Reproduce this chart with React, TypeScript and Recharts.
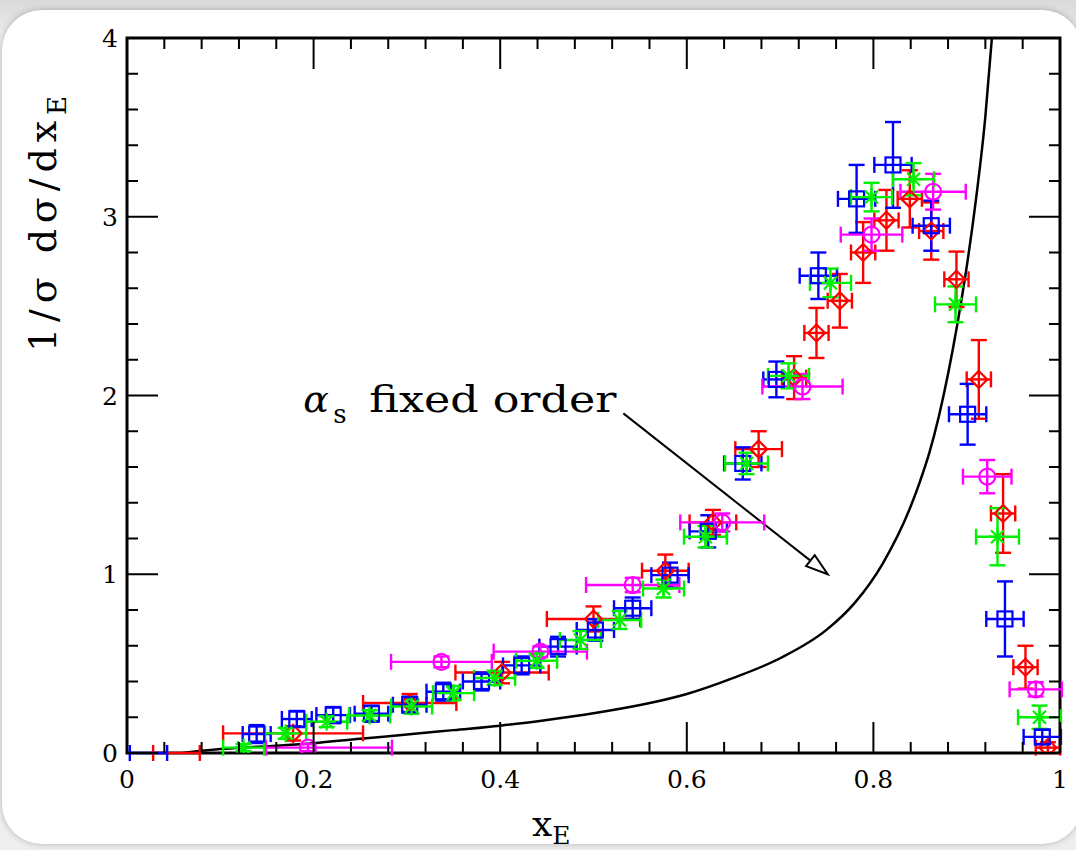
import React from 'react';
import {
  ComposedChart,
  Scatter,
  Line,
  XAxis,
  YAxis,
  ErrorBar,
  ReferenceArea,
  ReferenceLine,
  Label,
} from 'recharts';

// rows: [x_E, 1/σ dσ/dx_E, x error, y error]
type Row = [number, number, number | [number, number], number];

const redRows: Row[] = [
  [0.053, 0, 0.025, 0],
  [0.178, 0.11, 0.075, 0.04],
  [0.303, 0.28, 0.05, 0.05],
  [0.402, 0.45, 0.05, 0.06],
  [0.5, 0.75, 0.05, 0.07],
  [0.577, 1.02, 0.025, 0.09],
  [0.628, 1.29, 0.025, 0.07],
  [0.677, 1.7, 0.025, 0.1],
  [0.715, 2.1, 0.013, 0.12],
  [0.739, 2.35, 0.013, 0.14],
  [0.764, 2.53, 0.013, 0.15],
  [0.789, 2.8, 0.013, 0.17],
  [0.814, 2.98, 0.013, 0.17],
  [0.839, 3.1, 0.013, 0.16],
  [0.862, 2.92, 0.013, 0.16],
  [0.889, 2.65, 0.013, 0.155],
  [0.913, 2.09, 0.013, 0.22],
  [0.939, 1.34, 0.013, 0.22],
  [0.963, 0.48, 0.013, 0.12],
  [0.987, 0.03, 0.013, 0.03],
];

const blueRows: Row[] = [
  [0.023, 0, 0.02, 0],
  [0.139, 0.106, 0.015, 0.05],
  [0.182, 0.19, 0.016, 0.045],
  [0.221, 0.212, 0.018, 0.045],
  [0.262, 0.22, 0.018, 0.045],
  [0.303, 0.27, 0.018, 0.045],
  [0.339, 0.343, 0.018, 0.05],
  [0.38, 0.4, 0.02, 0.05],
  [0.423, 0.49, 0.02, 0.05],
  [0.462, 0.595, 0.02, 0.055],
  [0.502, 0.688, 0.02, 0.06],
  [0.542, 0.81, 0.02, 0.06],
  [0.582, 0.995, 0.02, 0.07],
  [0.623, 1.24, 0.02, 0.09],
  [0.66, 1.62, 0.02, 0.09],
  [0.696, 2.09, 0.014, 0.1],
  [0.741, 2.67, 0.02, 0.13],
  [0.782, 3.1, 0.02, 0.19],
  [0.821, 3.29, 0.02, 0.24],
  [0.862, 2.95, 0.02, 0.14],
  [0.901, 1.895, 0.02, 0.17],
  [0.941, 0.75, 0.02, 0.21],
  [0.981, 0.09, 0.02, 0.04],
];

const magentaRows: Row[] = [
  [0.194, 0.03, [0.045, 0.09], 0.02],
  [0.337, 0.51, 0.054, 0.03],
  [0.443, 0.567, 0.05, 0.03],
  [0.542, 0.94, 0.05, 0.04],
  [0.638, 1.29, 0.045, 0.05],
  [0.724, 2.05, 0.043, 0.07],
  [0.798, 2.9, 0.033, 0.09],
  [0.864, 3.14, 0.035, 0.1],
  [0.922, 1.546, 0.026, 0.093],
  [0.974, 0.356, 0.028, 0.04],
];

const greenRows: Row[] = [
  [0.125, 0.03, 0.022, 0.02],
  [0.17, 0.11, 0.022, 0.03],
  [0.214, 0.175, 0.022, 0.03],
  [0.26, 0.21, 0.022, 0.03],
  [0.305, 0.26, 0.022, 0.04],
  [0.35, 0.335, 0.022, 0.04],
  [0.394, 0.42, 0.022, 0.04],
  [0.439, 0.516, 0.022, 0.04],
  [0.486, 0.632, 0.022, 0.05],
  [0.528, 0.744, 0.023, 0.05],
  [0.575, 0.92, 0.022, 0.05],
  [0.62, 1.21, 0.023, 0.06],
  [0.664, 1.62, 0.023, 0.06],
  [0.709, 2.11, 0.022, 0.07],
  [0.754, 2.63, 0.022, 0.08],
  [0.798, 3.11, 0.022, 0.08],
  [0.843, 3.21, 0.022, 0.09],
  [0.888, 2.51, 0.022, 0.1],
  [0.933, 1.21, 0.023, 0.16],
  [0.978, 0.2, 0.023, 0.065],
];

// fixed-order α_s prediction
const curveX = [0.06, 0.1, 0.15, 0.2, 0.25, 0.3, 0.35, 0.4, 0.45, 0.5, 0.55, 0.6, 0.65, 0.7, 0.75, 0.78, 0.81, 0.84, 0.85, 0.86, 0.87, 0.88, 0.89, 0.9, 0.91, 0.92, 0.927];
const curveY = [0, 0.022, 0.038, 0.055, 0.08, 0.103, 0.128, 0.153, 0.185, 0.222, 0.268, 0.33, 0.42, 0.53, 0.69, 0.84, 1.06, 1.38, 1.52, 1.68, 1.88, 2.12, 2.4, 2.72, 3.1, 3.56, 4.0];

// arrow from the annotation to the curve
const arrowFrom = { x: 0.532, y: 1.9 };
const arrowTo = { x: 0.751, y: 1.0 };

const xTicks = [0, 0.04, 0.08, 0.12, 0.16, 0.2, 0.24, 0.28, 0.32, 0.36, 0.4, 0.44, 0.48, 0.52, 0.56, 0.6, 0.64, 0.68, 0.72, 0.76, 0.8, 0.84, 0.88, 0.92, 0.96, 1];
const xMajor = [0, 0.2, 0.4, 0.6, 0.8, 1];
const xLabels = ['0', '0.2', '0.4', '0.6', '0.8', '1'];
const yTicks = [0, 0.2, 0.4, 0.6, 0.8, 1, 1.2, 1.4, 1.6, 1.8, 2, 2.2, 2.4, 2.6, 2.8, 3, 3.2, 3.4, 3.6, 3.8, 4];
const yMajor = [0, 1, 2, 3, 4];
const yLabels = ['0', '1', '2', '3', '4'];

const RED = '#ff0000';
const BLUE = '#0000ff';
const GREEN = '#00f000';
const MAGENTA = '#ff00ff';

const toPoints = (rows: Row[]) => rows.map(([x, y, ex, ey]) => ({ x, y, ex, ey }));
const curve = curveX.map((x, i) => ({ x, y: curveY[i] }));

const W = 1076;
const H = 850;
const PLOT_W = 933;
const PLOT_H = 715;
const FONT = '"DejaVu Serif", serif';

const findMajor = (list: number[], v: number) => list.findIndex((m) => Math.abs(m - v) < 1e-6);

const XTick = (props: any) => {
  const { x, y, payload } = props;
  const idx = findMajor(xMajor, payload.value);
  const len = idx >= 0 ? 31 : 11;
  return (
    <g>
      <line x1={x} y1={y} x2={x} y2={y - len} stroke="#000" strokeWidth={2} />
      <line x1={x} y1={y - PLOT_H} x2={x} y2={y - PLOT_H + len} stroke="#000" strokeWidth={2} />
      {idx >= 0 && (
        <text x={x} y={y + 35} textAnchor="middle" fontFamily={FONT} fontSize={25} fill="#000">
          {xLabels[idx]}
        </text>
      )}
    </g>
  );
};

const YTick = (props: any) => {
  const { x, y, payload } = props;
  const idx = findMajor(yMajor, payload.value);
  const len = idx >= 0 ? 31 : 11;
  return (
    <g>
      <line x1={x} y1={y} x2={x + len} y2={y} stroke="#000" strokeWidth={2} />
      <line x1={x + PLOT_W} y1={y} x2={x + PLOT_W - len} y2={y} stroke="#000" strokeWidth={2} />
      {idx >= 0 && (
        <text x={x - 9} y={y + 9} textAnchor="end" fontFamily={FONT} fontSize={25} fill="#000">
          {yLabels[idx]}
        </text>
      )}
    </g>
  );
};

const Square = (props: any) => {
  const { cx, cy, payload } = props;
  if (payload.y <= 0) return <g />;
  return <rect x={cx - 7.5} y={cy - 7.5} width={15} height={15} fill="none" stroke={BLUE} strokeWidth={2.2} />;
};

const Diamond = (props: any) => {
  const { cx, cy, payload } = props;
  if (payload.y <= 0) return <g />;
  const r = 8.5;
  return (
    <path
      d={`M${cx},${cy - r}L${cx + r},${cy}L${cx},${cy + r}L${cx - r},${cy}Z`}
      fill="none"
      stroke={RED}
      strokeWidth={2.2}
    />
  );
};

const Ring = (props: any) => {
  const { cx, cy } = props;
  return <circle cx={cx} cy={cy} r={8} fill="none" stroke={MAGENTA} strokeWidth={2.2} />;
};

const Star = (props: any) => {
  const { cx, cy } = props;
  const r = 9;
  const d = r * 0.72;
  return (
    <g stroke={GREEN} strokeWidth={2.2}>
      <line x1={cx - r} y1={cy} x2={cx + r} y2={cy} />
      <line x1={cx} y1={cy - r} x2={cx} y2={cy + r} />
      <line x1={cx - d} y1={cy - d} x2={cx + d} y2={cy + d} />
      <line x1={cx - d} y1={cy + d} x2={cx + d} y2={cy - d} />
    </g>
  );
};

const ArrowNote = (props: any) => {
  const { x1, y1, x2, y2 } = props;
  const a = Math.atan2(y2 - y1, x2 - x1);
  const len = 22;
  const half = 7;
  const bx = x2 - len * Math.cos(a);
  const by = y2 - len * Math.sin(a);
  const px = -Math.sin(a) * half;
  const py = Math.cos(a) * half;
  return (
    <g>
      <line x1={x1} y1={y1} x2={bx} y2={by} stroke="#000" strokeWidth={2} />
      <polygon
        points={`${x2},${y2} ${bx + px},${by + py} ${bx - px},${by - py}`}
        fill="#fff"
        stroke="#000"
        strokeWidth={2}
      />
      <text x={x1 - 320} y={y1 - 1} fontFamily={FONT} fontStyle="italic" fontSize={38} fill="#000">
        α
      </text>
      <text x={x1 - 290} y={y1 + 10} fontFamily={FONT} fontSize={26} fill="#000">
        s
      </text>
      <text
        x={x1 - 254}
        y={y1 - 1}
        fontFamily={FONT}
        fontSize={38}
        fill="#000"
        textLength={247}
        lengthAdjust="spacingAndGlyphs"
      >
        fixed order
      </text>
    </g>
  );
};

const YTitle = () => (
  <text
    x={56}
    y={352}
    transform="rotate(-90 56 352)"
    fontFamily={FONT}
    fontSize={38}
    fill="#000"
    textLength={256}
    lengthAdjust="spacing"
  >
    1/σ  dσ/dx
    <tspan fontSize={26} dy={10}>E</tspan>
  </text>
);

const XTitle = () => (
  <text x={532} y={836} fontFamily={FONT} fontSize={36} fill="#000">
    x
    <tspan fontSize={25} dy={8}>E</tspan>
  </text>
);

export default function App() {
  return (
    <div
      style={{
        position: 'absolute',
        left: 0,
        top: 0,
        width: W,
        height: H,
        overflow: 'hidden',
        background: 'linear-gradient(#d9d9d9, #eeeeee 40px)',
      }}
    >
      <div
        style={{
          position: 'absolute',
          left: 2,
          top: 10,
          width: 1080,
          height: 834,
          background: '#fff',
          borderRadius: 40,
          boxShadow: '0 0 6px rgba(0,0,0,0.25)',
        }}
      />
      <div style={{ position: 'absolute', left: 0, top: 0 }}>
        <ComposedChart width={W} height={H} margin={{ top: 38, right: 16, bottom: 37, left: 27 }}>
          <XAxis
            type="number"
            dataKey="x"
            domain={[0, 1]}
            allowDataOverflow
            ticks={xTicks}
            interval={0}
            tick={XTick}
            tickLine={false}
            tickSize={0}
            tickMargin={0}
            axisLine={false}
            height={60}
          >
            <Label content={XTitle} />
          </XAxis>
          <YAxis
            type="number"
            dataKey="y"
            domain={[0, 4]}
            allowDataOverflow
            ticks={yTicks}
            interval={0}
            tick={YTick}
            tickLine={false}
            tickSize={0}
            tickMargin={0}
            axisLine={false}
            width={100}
          >
            <Label content={YTitle} />
          </YAxis>
          <ReferenceArea x1={0} x2={1} y1={0} y2={4} fill="none" fillOpacity={0} stroke="#000" strokeWidth={3} ifOverflow="visible" />
          <Line
            data={curve}
            dataKey="y"
            type="monotone"
            stroke="#000"
            strokeWidth={2.5}
            dot={false}
            activeDot={false}
            isAnimationActive={false}
          />
          <ReferenceLine segment={[arrowFrom, arrowTo]} shape={ArrowNote} ifOverflow="visible" />
          <Scatter data={toPoints(redRows)} dataKey="y" shape={Diamond} isAnimationActive={false}>
            <ErrorBar dataKey="ex" direction="x" width={8} stroke={RED} strokeWidth={2.4} />
            <ErrorBar dataKey="ey" direction="y" width={8} stroke={RED} strokeWidth={2.4} />
          </Scatter>
          <Scatter data={toPoints(blueRows)} dataKey="y" shape={Square} isAnimationActive={false}>
            <ErrorBar dataKey="ex" direction="x" width={8} stroke={BLUE} strokeWidth={2.4} />
            <ErrorBar dataKey="ey" direction="y" width={8} stroke={BLUE} strokeWidth={2.4} />
          </Scatter>
          <Scatter data={toPoints(magentaRows)} dataKey="y" shape={Ring} isAnimationActive={false}>
            <ErrorBar dataKey="ex" direction="x" width={8} stroke={MAGENTA} strokeWidth={2.4} />
            <ErrorBar dataKey="ey" direction="y" width={8} stroke={MAGENTA} strokeWidth={2.4} />
          </Scatter>
          <Scatter data={toPoints(greenRows)} dataKey="y" shape={Star} isAnimationActive={false}>
            <ErrorBar dataKey="ex" direction="x" width={8} stroke={GREEN} strokeWidth={2.4} />
            <ErrorBar dataKey="ey" direction="y" width={8} stroke={GREEN} strokeWidth={2.4} />
          </Scatter>
        </ComposedChart>
      </div>
    </div>
  );
}
